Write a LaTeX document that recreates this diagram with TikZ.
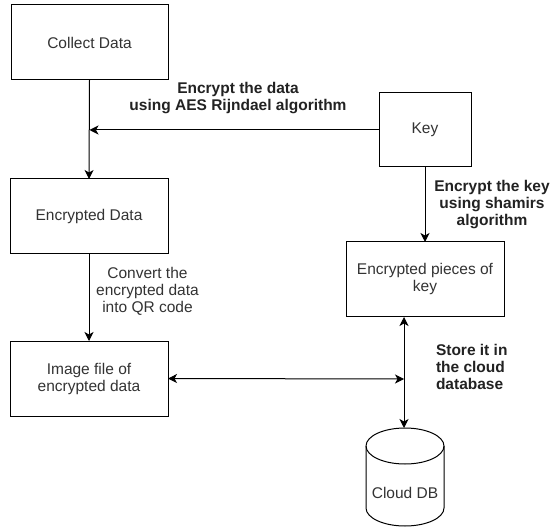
\documentclass[tikz,border=0pt]{standalone}
\usepackage{fontspec}
\setmainfont{Liberation Sans}
\usetikzlibrary{arrows.meta}
\definecolor{boxtext}{HTML}{333333}
\definecolor{labeltext}{HTML}{222222}
\begin{document}
\begin{tikzpicture}[x=1pt,y=-1pt,
  every node/.style={inner sep=0pt,outer sep=0pt},
  stepbox/.style={draw=black,line width=1pt,fill=white,text=boxtext,
    align=center,font=\fontsize{15.5}{17}\selectfont},
  note/.style={text=labeltext,align=center,font=\bfseries\fontsize{15.5}{17}\selectfont},
  plainnote/.style={text=boxtext,align=center,font=\fontsize{15.5}{17}\selectfont},
  tip/.style={Stealth[length=9pt,width=9pt,inset=2.5pt]},
  flow/.style={line width=1pt,-{Stealth[length=9pt,width=9pt,inset=2.5pt]}},
  bothflow/.style={line width=1pt,{Stealth[length=9pt,width=9pt,inset=2.5pt]}-{Stealth[length=9pt,width=9pt,inset=2.5pt]}}]
\useasboundingbox (0,0) rectangle (551,529);
\fill[white] (0,0) rectangle (551,529);

% process boxes
\node[stepbox,minimum width=157pt,minimum height=75pt] (collect) at (89.5,42.5) {Collect Data};
\node[stepbox,minimum width=158pt,minimum height=75pt] (encdata) at (89,216.5) {Encrypted Data};
\node[stepbox,minimum width=158pt,minimum height=75pt] (img) at (89,378.5) {Image file of\\encrypted data};
\node[stepbox,minimum width=92pt,minimum height=74pt] (key) at (425,130) {Key};
\node[stepbox,minimum width=158pt,minimum height=74pt] (pieces) at (425,279) {Encrypted pieces of\\key};

% database cylinder: body with the front arc of the bottom, then the top ellipse
\draw[line width=1pt,fill=white] (366,446) -- (366,508)
  arc[start angle=180,end angle=360,x radius=39,y radius=-18]
  -- (444,446) arc[start angle=0,end angle=180,x radius=39,y radius=-18] -- cycle;
\draw[line width=1pt] (366,446) arc[start angle=180,end angle=360,x radius=39,y radius=-18];
\node[plainnote] (db) at (405,493) {Cloud DB};

% connector end points on the shared storage line
\coordinate (pbot) at (404,317);
\coordinate (dbin) at (404,428);
\coordinate (mid) at (404,379);

% connectors
\draw[flow] (collect.south) -- (encdata.north);
\draw[flow] (key.west) -- (collect.south |- key.west);
\draw[flow] (encdata.south) -- (img.north);
\draw[flow] (key.south) -- (pieces.north);
\draw[bothflow] (pbot) -- (dbin);
\draw[bothflow] (img.east) -- (mid);

% connector labels
\node[note] (lblaes) at (238,98.5) {Encrypt the data\\using AES Rijndael algorithm};
\node[note] (lblsham) at (492,205) {Encrypt the key\\using shamirs\\algorithm};
\node[plainnote] (lblqr) at (147.5,291.5) {Convert the\\encrypted data\\into QR code};
\node[note,align=left,anchor=west] (lblstore) at (436,366.5) {Store it in\\the cloud\\database};
\end{tikzpicture}
\end{document}
